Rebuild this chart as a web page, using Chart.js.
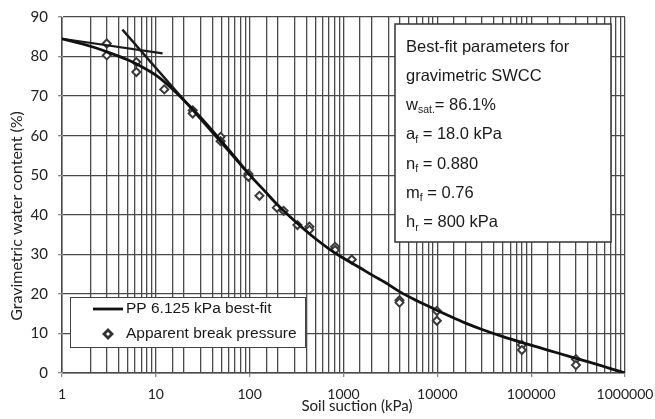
<!DOCTYPE html>
<html>
<head>
<meta charset="utf-8">
<script src="https://cdn.jsdelivr.net/npm/chart.js@4.4.1/dist/chart.umd.min.js"></script>
<style>
  html, body { margin: 0; padding: 0; background: #fff; }
  #chart { display: block; }
</style>
</head>
<body>
<canvas id="chart" width="655" height="419"></canvas>
<script>
// fitted SWCC
const curveSuction = [1, 2, 3, 5, 7, 10, 15, 20, 30, 50, 70, 100, 150, 200, 300, 500, 700, 1000, 1500, 2000, 3000, 4000, 6000, 10000, 15000, 20000, 30000, 50000, 80000, 150000, 300000, 500000, 1000000];
const curveWater = [84.5, 82.6, 81.2, 79.2, 77.5, 75.3, 71.8, 68.9, 64.6, 58.6, 54.5, 50.1, 45.6, 42.4, 38.5, 34.0, 31.4, 29.0, 26.6, 24.8, 22.4, 20.5, 18.3, 15.8, 13.9, 12.6, 11.0, 9.2, 7.7, 5.8, 3.7, 2.2, 0];

// apparent break pressure points
const breakSuction = [3, 3, 6.2, 6.2, 12.3, 24.7, 24.7, 49, 49, 97, 97, 127, 195, 230, 323, 433, 433, 814, 814, 1225, 3950, 3950, 9880, 9880, 79600, 79600, 300000, 300000];
const breakWater = [83.3, 80.3, 78.6, 76.1, 71.7, 66.4, 65.6, 59.7, 58.6, 50.3, 49.6, 44.8, 41.8, 41.0, 37.4, 37.0, 36.2, 31.9, 31.1, 28.7, 18.4, 17.8, 15.7, 13.2, 7.1, 5.8, 3.5, 2.0];

// the two construction (tangent) lines
const flatTangentSuction = [1, 11.8];
const flatTangentWater = [84.5, 80.8];
const steepTangentSuction = [4.4, 100];
const steepTangentWater = [86.8, 50.0];

const yTicks = [0, 10, 20, 30, 40, 50, 60, 70, 80, 90];

const seriesNames = ['PP 6.125 kPa best-fit', 'Apparent break pressure'];
const axisTitles = { x: 'Soil suction (kPa)', y: 'Gravimetric water content (%)' };

// parameter box: [main, subscript, rest]
const paramLines = [
    ['Best-fit parameters for', '', ''],
    ['gravimetric SWCC', '', ''],
    ['w', 'sat.', '= 86.1%'],
    ['a', 'f', ' = 18.0 kPa'],
    ['n', 'f', ' = 0.880'],
    ['m', 'f', ' = 0.76'],
    ['h', 'r', ' = 800 kPa']
];

const toXY = (xs, ys) => xs.map((x, i) => ({ x: x, y: ys[i] }));
const isDecade = v => Math.abs(Math.log10(v) - Math.round(Math.log10(v))) < 1e-9;

const GRID = '#4a4a4a';
const AXIS = '#8a8a8a';

// titles, parameter box and legend
const decorPlugin = {
    id: 'decor',
    afterDraw(chart) {
        const ctx = chart.ctx;
        ctx.save();
        ctx.fillStyle = '#222';
        ctx.textBaseline = 'middle';
        ctx.textAlign = 'center';

        // axis titles
        ctx.font = '15px Lato';
        ctx.fillText(axisTitles.x, 357, 406);
        ctx.save();
        ctx.translate(17, 216);
        ctx.rotate(-Math.PI / 2);
        ctx.font = '16px Lato';
        ctx.fillText(axisTitles.y, 0, 0);
        ctx.restore();

        // parameter box
        ctx.fillStyle = '#fff';
        ctx.fillRect(395, 24, 216, 218);
        ctx.strokeStyle = '#333';
        ctx.lineWidth = 1.5;
        ctx.strokeRect(395, 24, 216, 218);
        ctx.fillStyle = '#1a1a1a';
        ctx.textAlign = 'left';
        paramLines.forEach((ln, i) => {
            const y = 47 + i * 29.3;
            let x = 406;
            ctx.font = '16.5px "Liberation Sans"';
            ctx.fillText(ln[0], x, y);
            x += ctx.measureText(ln[0]).width;
            if (ln[1]) {
                ctx.font = '10.5px "Liberation Sans"';
                ctx.fillText(ln[1], x, y + 5);
                x += ctx.measureText(ln[1]).width;
                ctx.font = '16.5px "Liberation Sans"';
                ctx.fillText(ln[2], x, y);
            }
        });

        // legend
        ctx.fillStyle = '#fff';
        ctx.fillRect(70, 297, 235, 50);
        ctx.strokeStyle = '#444';
        ctx.lineWidth = 1;
        ctx.strokeRect(70.5, 297.5, 235, 50);
        ctx.strokeStyle = '#111';
        ctx.lineWidth = 2.8;
        ctx.beginPath();
        ctx.moveTo(93, 309);
        ctx.lineTo(123, 309);
        ctx.stroke();
        ctx.strokeStyle = '#333';
        ctx.fillStyle = '#fff';
        Chart.helpers.drawPoint(ctx, { pointStyle: 'rectRot', radius: 4, rotation: 0, borderWidth: 2 }, 108, 334);
        ctx.fillStyle = '#1a1a1a';
        ctx.font = '15.5px "Liberation Sans"';
        ctx.fillText(seriesNames[0], 126, 309);
        ctx.fillText(seriesNames[1], 126, 334);
        ctx.restore();
    }
};

new Chart(document.getElementById('chart'), {
    type: 'scatter',
    data: {
        datasets: [
            {
                label: seriesNames[1],
                data: toXY(breakSuction, breakWater),
                pointStyle: 'rectRot',
                pointRadius: 4,
                pointBorderWidth: 2,
                pointBorderColor: '#3a3a3a',
                pointBackgroundColor: '#fff',
                showLine: false,
                order: 3
            },
            {
                label: seriesNames[0],
                data: toXY(curveSuction, curveWater),
                showLine: true,
                borderColor: '#111',
                borderWidth: 2.8,
                pointRadius: 0,
                cubicInterpolationMode: 'monotone',
                order: 1
            },
            {
                label: 'tangent 1',
                data: toXY(flatTangentSuction, flatTangentWater),
                showLine: true,
                borderColor: '#1a1a1a',
                borderWidth: 2.2,
                pointRadius: 0,
                order: 2
            },
            {
                label: 'tangent 2',
                data: toXY(steepTangentSuction, steepTangentWater),
                showLine: true,
                borderColor: '#1a1a1a',
                borderWidth: 2.4,
                pointRadius: 0,
                order: 2
            }
        ]
    },
    options: {
        responsive: false,
        animation: false,
        layout: { padding: { top: 17, right: 30, left: 0, bottom: 0 } },
        plugins: {
            legend: { display: false },
            tooltip: { enabled: false },
            title: { display: false }
        },
        scales: {
            x: {
                type: 'logarithmic',
                min: 1,
                max: 1000000,
                afterFit: s => { s.height = 46; s.paddingLeft = 0; s.paddingRight = 0; },
                ticks: {
                    autoSkip: false,
                    maxRotation: 0,
                    padding: 9,
                    color: '#222',
                    font: { family: 'Lato', size: 14 },
                    callback: v => isDecade(v) ? String(v) : ''
                },
                grid: {
                    color: GRID,
                    lineWidth: 1.3,
                    tickLength: 4,
                    tickColor: c => (c.tick && isDecade(c.tick.value)) ? AXIS : 'rgba(0,0,0,0)'
                },
                border: { color: AXIS, width: 1 }
            },
            y: {
                min: 0,
                max: 90,
                afterFit: s => { s.width = 62; s.paddingTop = 0; s.paddingBottom = 0; },
                afterBuildTicks: s => { s.ticks = yTicks.map(v => ({ value: v })); },
                ticks: {
                    padding: 10,
                    color: '#222',
                    font: { family: 'Lato', size: 15 }
                },
                grid: {
                    color: GRID,
                    lineWidth: 1.3,
                    tickLength: 4,
                    tickColor: AXIS
                },
                border: { color: AXIS, width: 1 }
            }
        }
    },
    plugins: [decorPlugin]
});
</script>
</body>
</html>
